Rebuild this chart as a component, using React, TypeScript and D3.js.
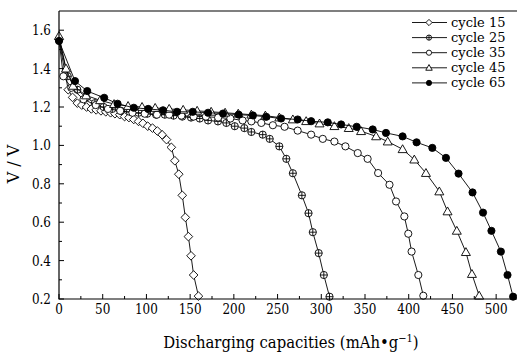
import * as d3 from "d3";

// ── Data (capacity mAh/g, voltage V) ──────────────────────────
const C15_X = [0, 10.5, 15.5, 21, 26, 31.5, 37, 42.5, 48, 53.5, 59, 64, 69.5, 75, 80, 85.5, 91, 96, 101.5, 107, 112.5, 118, 123, 128.5, 132.5, 137, 141, 144.5, 148, 151, 154, 159.5];
const C15_Y = [1.55, 1.29, 1.25, 1.22, 1.21, 1.2, 1.19, 1.185, 1.18, 1.175, 1.17, 1.165, 1.16, 1.15, 1.145, 1.135, 1.125, 1.115, 1.1, 1.09, 1.075, 1.055, 1.03, 0.99, 0.92, 0.85, 0.74, 0.625, 0.525, 0.425, 0.325, 0.215];

const C25_X = [0, 10, 21, 31, 41, 51, 61, 71, 81, 91, 101, 111, 121, 131, 141, 151, 161, 170.5, 181.8, 191.4, 201, 212, 220, 233, 241, 252, 260, 267.5, 277.8, 285.4, 290.3, 297, 302.9, 309.4];
const C25_Y = [1.55, 1.36, 1.29, 1.25, 1.22, 1.2, 1.19, 1.18, 1.175, 1.17, 1.165, 1.16, 1.16, 1.155, 1.15, 1.145, 1.14, 1.13, 1.125, 1.117, 1.1, 1.09, 1.07, 1.056, 1.034, 0.995, 0.93, 0.855, 0.74, 0.647, 0.548, 0.439, 0.325, 0.212];

const C35_X = [0, 5, 14, 28, 42, 56, 70, 84, 98, 112, 126, 140, 154, 168, 182, 196, 210, 220, 231.4, 244.6, 258, 273, 288.4, 301.7, 315, 327.6, 341.7, 353, 365, 378, 385.5, 395, 399.5, 403.3, 411, 416.7];
const C35_Y = [1.55, 1.36, 1.3, 1.24, 1.21, 1.19, 1.18, 1.17, 1.165, 1.16, 1.16, 1.155, 1.15, 1.15, 1.145, 1.14, 1.13, 1.125, 1.117, 1.105, 1.097, 1.077, 1.056, 1.034, 1.02, 0.995, 0.96, 0.93, 0.856, 0.795, 0.708, 0.63, 0.54, 0.447, 0.325, 0.217];

const C45_X = [0, 8, 16, 31, 47, 63, 79, 95, 110, 126, 142, 158, 174, 190, 205, 220, 236, 252, 267.5, 282.7, 298, 315, 331.4, 345.5, 362.7, 376, 393, 406.4, 419.7, 435, 444.4, 455, 465.4, 472.3, 480.6];
const C45_Y = [1.57, 1.4, 1.31, 1.26, 1.235, 1.215, 1.205, 1.2, 1.195, 1.19, 1.185, 1.18, 1.175, 1.17, 1.165, 1.16, 1.155, 1.145, 1.135, 1.126, 1.114, 1.1, 1.09, 1.074, 1.047, 1.02, 0.98, 0.926, 0.856, 0.76, 0.656, 0.555, 0.444, 0.33, 0.217];

const C65_X = [0, 18.3, 32.3, 51.7, 67, 85.6, 102, 119, 135, 153, 170.5, 187.6, 205.5, 221.8, 237, 254, 273, 288.4, 307.4, 322.7, 340.5, 358.8, 374, 393, 409, 427, 442.6, 457, 473, 485, 494.6, 505.4, 513, 519.4];
const C65_Y = [1.544, 1.335, 1.283, 1.248, 1.217, 1.196, 1.19, 1.183, 1.175, 1.175, 1.17, 1.166, 1.16, 1.156, 1.149, 1.14, 1.135, 1.126, 1.12, 1.109, 1.097, 1.083, 1.065, 1.047, 1.016, 0.987, 0.935, 0.853, 0.755, 0.65, 0.555, 0.447, 0.325, 0.212];

const LABELS = ["cycle 15", "cycle 25", "cycle 35", "cycle 45", "cycle 65"];
const MARKERS = ["diamond", "ocross", "circle", "triangle", "dot"];
const SERIES_X = [C15_X, C25_X, C35_X, C45_X, C65_X];
const SERIES_Y = [C15_Y, C25_Y, C35_Y, C45_Y, C65_Y];

const X_TICKS = [0, 50, 100, 150, 200, 250, 300, 350, 400, 450, 500];
const Y_TICKS = [0.2, 0.4, 0.6, 0.8, 1.0, 1.2, 1.4, 1.6];

// ── Layout ────────────────────────────────────────────────────
const W = 517;
const H = 357;
const L = 59;
const R = 518;
const T = 11;
const B = 299;
// only DejaVu Serif resolves here; squeeze it sideways to look more like Times
const FONT = "DejaVu Serif";
const SQ = 0.8;

const x = d3.scaleLinear().domain([0, 525]).range([L, R]);
const y = d3.scaleLinear().domain([0.2, 1.7]).range([B, T]);

function Marker({ kind, cx, cy, s }: { kind: string; cx: number; cy: number; s: number }) {
  const st = { stroke: "#000", strokeWidth: 0.9 };
  if (kind === "diamond") {
    const r = s * 1.2;
    return <path d={`M${cx},${cy - r}L${cx + r},${cy}L${cx},${cy + r}L${cx - r},${cy}Z`} fill="#fff" {...st} />;
  }
  if (kind === "triangle") {
    const r = s * 1.25;
    return <path d={`M${cx},${cy - r}L${cx + r},${cy + r * 0.75}L${cx - r},${cy + r * 0.75}Z`} fill="#fff" {...st} />;
  }
  if (kind === "ocross") {
    return (
      <g>
        <circle cx={cx} cy={cy} r={s} fill="#fff" {...st} />
        <path d={`M${cx - s},${cy}H${cx + s}M${cx},${cy - s}V${cy + s}`} {...st} />
      </g>
    );
  }
  if (kind === "dot") return <circle cx={cx} cy={cy} r={s} fill="#000" {...st} />;
  return <circle cx={cx} cy={cy} r={s} fill="#fff" {...st} />;
}

export default function App() {
  const line = d3.line<number>();
  const minorX = d3.range(25, 525, 50);
  const minorY = d3.range(0.3, 1.7, 0.2);

  return (
    <svg width={W} height={H} fontFamily={FONT} style={{ display: "block", position: "absolute", left: 0, top: 0 }}>
      <rect width={W} height={H} fill="#fff" />

      {/* series */}
      {SERIES_X.map((xs, si) => {
        const pts = xs.map((v, i) => [x(v), y(SERIES_Y[si][i])] as [number, number]);
        return (
          <g key={si}>
            <path d={line(pts) ?? ""} fill="none" stroke="#000" strokeWidth={0.9} />
            {pts.map((p, i) => (
              <Marker key={i} kind={MARKERS[si]} cx={p[0]} cy={p[1]} s={3.6} />
            ))}
          </g>
        );
      })}

      {/* frame */}
      <path d={`M${L},${T}H${W}M${L},${T}V${B}H${W}`} fill="none" stroke="#000" strokeWidth={1.2} />

      {/* x ticks */}
      {X_TICKS.map((t) => (
        <g key={t}>
          <line x1={x(t)} x2={x(t)} y1={B} y2={B - 5} stroke="#000" strokeWidth={1} />
          <text transform={`translate(${x(t)},314) scale(${SQ},1)`} textAnchor="middle" fontSize={15}>{t}</text>
        </g>
      ))}
      {minorX.map((t) => (
        <line key={t} x1={x(t)} x2={x(t)} y1={B} y2={B - 3} stroke="#000" strokeWidth={1} />
      ))}

      {/* y ticks */}
      {Y_TICKS.map((t) => (
        <g key={t}>
          <line x1={L} x2={L + 5} y1={y(t)} y2={y(t)} stroke="#000" strokeWidth={1} />
          <text transform={`translate(51,${y(t) + 5}) scale(${SQ},1)`} textAnchor="end" fontSize={15}>{t.toFixed(1)}</text>
        </g>
      ))}
      {minorY.map((t) => (
        <line key={t} x1={L} x2={L + 3} y1={y(t)} y2={y(t)} stroke="#000" strokeWidth={1} />
      ))}

      {/* axis titles */}
      <text transform="translate(291,348) scale(0.9,1)" textAnchor="middle" fontSize={16.5}>
        Discharging capacities (mAh•g<tspan dy={-6} fontSize={11}>−1</tspan><tspan dy={6}>)</tspan>
      </text>
      <text transform="translate(19,164) rotate(-90)" textAnchor="middle" fontSize={16}>V / V</text>

      {/* legend */}
      {LABELS.map((lab, i) => {
        const ly = 22.5 + i * 15.1;
        return (
          <g key={lab}>
            <line x1={412} x2={447} y1={ly} y2={ly} stroke="#000" strokeWidth={0.9} />
            <Marker kind={MARKERS[i]} cx={429} cy={ly} s={2.6} />
            <text x={451} y={ly + 4.5} fontSize={13}>{lab}</text>
          </g>
        );
      })}
    </svg>
  );
}
